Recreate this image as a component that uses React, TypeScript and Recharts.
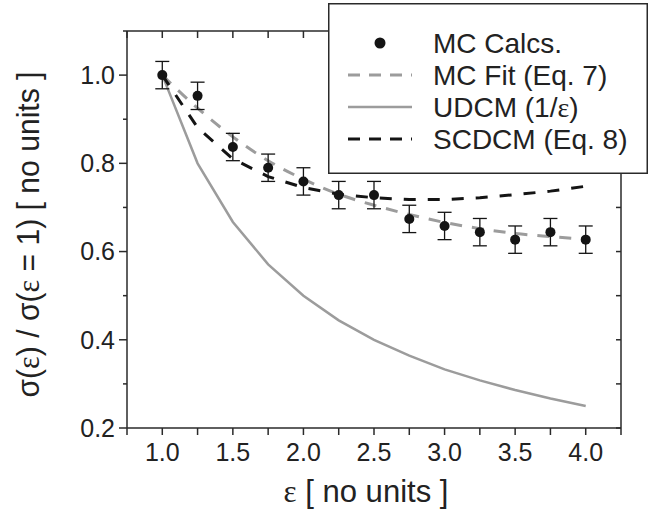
import React from 'react';
import { LineChart, Line, XAxis, YAxis, ErrorBar, Legend } from 'recharts';

const eps = [1.0, 1.25, 1.5, 1.75, 2.0, 2.25, 2.5, 2.75, 3.0, 3.25, 3.5, 3.75, 4.0];
const mcCalcs = [1.0, 0.953, 0.837, 0.79, 0.759, 0.728, 0.728, 0.674, 0.658, 0.644, 0.627, 0.644, 0.627];
const mcErr = [0.031, 0.031, 0.031, 0.031, 0.031, 0.031, 0.031, 0.031, 0.031, 0.031, 0.031, 0.031, 0.031];
const mcFit = [1.0, 0.925, 0.86, 0.806, 0.764, 0.73, 0.705, 0.684, 0.666, 0.652, 0.641, 0.634, 0.628];
const udcm = [1.0, 0.8, 0.667, 0.571, 0.5, 0.444, 0.4, 0.364, 0.333, 0.308, 0.286, 0.267, 0.25];
const scdcm = [1.0, 0.881, 0.81, 0.77, 0.745, 0.73, 0.722, 0.718, 0.718, 0.722, 0.729, 0.737, 0.748];

const xTicks = [0.75, 1.0, 1.25, 1.5, 1.75, 2.0, 2.25, 2.5, 2.75, 3.0, 3.25, 3.5, 3.75, 4.0, 4.25];
const xLabelled = [1.0, 1.5, 2.0, 2.5, 3.0, 3.5, 4.0];
const yTicks = [0.2, 0.3, 0.4, 0.5, 0.6, 0.7, 0.8, 0.9, 1.0, 1.1];
const yLabelled = [0.2, 0.4, 0.6, 0.8, 1.0];

const legendNames = ['MC Calcs.', 'MC Fit (Eq. 7)', 'UDCM (1/ε)', 'SCDCM (Eq. 8)'];

const data = eps.map((e, i) => ({
  x: e,
  mc: mcCalcs[i],
  err: mcErr[i],
  fit: mcFit[i],
  udcm: udcm[i],
  scdcm: scdcm[i],
}));

const FONT = '"Liberation Sans", Arial, Helvetica, sans-serif';
const SERIF = '"Liberation Serif", "DejaVu Serif", serif';
const AXIS = '#2a2a2a';
const GRAY = '#9c9c9c';
const BLACK = '#141414';

const isIn = (arr: number[], v: number) => arr.some((a) => Math.abs(a - v) < 1e-6);

const LeftTick = (props: any) => {
  const { x, y, payload } = props;
  const major = isIn(yLabelled, payload.value);
  const len = major ? 8 : 4;
  const ax = x + 12;
  return (
    <g>
      <line x1={ax - len} x2={ax} y1={y} y2={y} stroke={AXIS} strokeWidth={1.5} />
      {major && (
        <text x={x} y={y} dy="0.355em" textAnchor="end" fontSize={25} fontFamily={FONT} fill="#222">
          {payload.value.toFixed(1)}
        </text>
      )}
    </g>
  );
};

const NoTick = () => <g />;

const XTitle = (props: any) => {
  const vb = props.viewBox;
  return (
    <text
      x={vb.x + vb.width / 2 - 8}
      y={vb.y + 74}
      textAnchor="middle"
      fontSize={32}
      textLength={165}
      lengthAdjust="spacingAndGlyphs"
      fontFamily={FONT}
      fill="#222"
    >
      <tspan fontFamily={SERIF}>ε</tspan> [ no units ]
    </text>
  );
};

const YTitle = (props: any) => {
  const vb = props.viewBox;
  const cx = vb.x + 39;
  const cy = vb.y + vb.height / 2 + 5;
  return (
    <text
      x={cx}
      y={cy}
      transform={`rotate(-90 ${cx} ${cy})`}
      textAnchor="middle"
      fontSize={31}
      textLength={326}
      lengthAdjust="spacingAndGlyphs"
      fontFamily={FONT}
      fill="#222"
    >
      σ(<tspan fontFamily={SERIF}>ε</tspan>) / σ(<tspan fontFamily={SERIF}>ε</tspan> = 1) [ no units ]
    </text>
  );
};

const LegendBox = () => {
  const rows = [40, 72, 104, 136];
  return (
    <svg width={320} height={171} style={{ display: 'block' }}>
      <rect x={0.75} y={0.75} width={318.5} height={169.5} fill="#fff" stroke={AXIS} strokeWidth={1.5} />
      <circle cx={52} cy={rows[0]} r={5.5} fill={BLACK} />
      <line x1={20} x2={84} y1={rows[1]} y2={rows[1]} stroke={GRAY} strokeWidth={3} strokeDasharray="12 9" />
      <line x1={20} x2={84} y1={rows[2]} y2={rows[2]} stroke={GRAY} strokeWidth={2.5} />
      <line x1={20} x2={84} y1={rows[3]} y2={rows[3]} stroke={BLACK} strokeWidth={3} strokeDasharray="12 9" />
      {legendNames.map((n, i) => (
        <text key={n} x={105} y={rows[i]} dy="0.36em" fontSize={28} fontFamily={FONT} fill="#222">
          {n.includes('ε') ? (
            <>
              UDCM (1/<tspan fontFamily={SERIF}>ε</tspan>)
            </>
          ) : (
            n
          )}
        </text>
      ))}
    </svg>
  );
};

export default function App() {
  return (
    <div style={{ position: 'absolute', left: 0, top: 0, width: 657, height: 514, background: '#fff' }}>
      <LineChart width={657} height={514} data={data} margin={{ top: 31, right: 36, bottom: 0, left: 0 }}>
        <XAxis
          dataKey="x"
          type="number"
          domain={[0.75, 4.25]}
          allowDataOverflow
          ticks={xTicks}
          interval={0}
          height={86}
          tickSize={7}
          tickMargin={8}
          stroke={AXIS}
          strokeWidth={1.5}
          axisLine
          tickLine
          tick={{ fontSize: 25, fontFamily: FONT, fill: '#222', stroke: 'none' }}
          tickFormatter={(v: number) => (isIn(xLabelled, v) ? v.toFixed(1) : '')}
          label={{ content: XTitle }}
        />
        <XAxis
          xAxisId="top"
          dataKey="x"
          orientation="top"
          type="number"
          domain={[0.75, 4.25]}
          allowDataOverflow
          ticks={xTicks}
          interval={0}
          mirror
          height={30}
          tickSize={7}
          stroke={AXIS}
          strokeWidth={1.5}
          axisLine
          tickLine
          tick={NoTick}
        />
        <YAxis
          type="number"
          domain={[0.2, 1.1]}
          allowDataOverflow
          ticks={yTicks}
          interval={0}
          width={127}
          tickSize={8}
          tickMargin={4}
          stroke={AXIS}
          strokeWidth={1.5}
          axisLine
          tickLine={false}
          tick={LeftTick}
          label={{ content: YTitle }}
        />
        <YAxis
          yAxisId="right"
          orientation="right"
          type="number"
          domain={[0.2, 1.1]}
          allowDataOverflow
          ticks={yTicks}
          interval={0}
          mirror
          width={30}
          tickSize={5}
          stroke={AXIS}
          strokeWidth={1.5}
          axisLine
          tickLine
          tick={NoTick}
        />
        <Line dataKey="udcm" type="linear" stroke={GRAY} strokeWidth={2.5} dot={false} activeDot={false} isAnimationActive={false} />
        <Line dataKey="fit" type="monotone" stroke={GRAY} strokeWidth={3} strokeDasharray="12 10" dot={false} activeDot={false} isAnimationActive={false} />
        <Line dataKey="scdcm" type="linear" stroke={BLACK} strokeWidth={3} strokeDasharray="12 12" dot={false} activeDot={false} isAnimationActive={false} />
        <Line
          dataKey="mc"
          xAxisId="top"
          yAxisId="right"
          stroke="none"
          dot={{ r: 5, fill: BLACK, stroke: 'none' }}
          activeDot={false}
          isAnimationActive={false}
        >
          <ErrorBar dataKey="err" width={7} stroke={BLACK} strokeWidth={1.3} direction="y" isAnimationActive={false} />
        </Line>
        <Legend
          layout="vertical"
          verticalAlign="middle"
          align="center"
          content={LegendBox}
          wrapperStyle={{ left: 328, top: 3, width: 320, height: 171 }}
        />
      </LineChart>
    </div>
  );
}
